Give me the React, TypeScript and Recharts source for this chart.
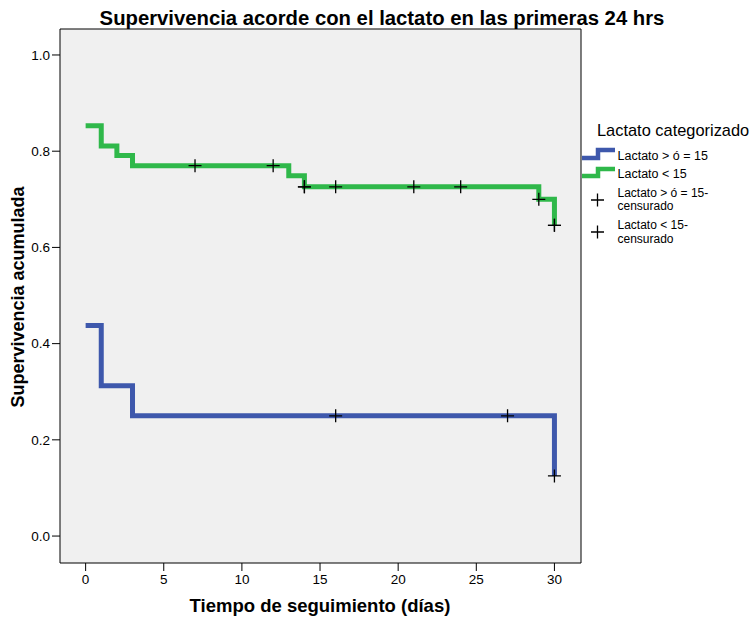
import { ComposedChart, Line, Scatter, XAxis, YAxis, ReferenceArea } from "recharts";

// Kaplan-Meier steps
const highTimes = [0, 1, 3, 30];
const highSurv = [0.4375, 0.3125, 0.25, 0.125];
const lowTimes = [0, 1, 2, 3, 13, 14, 29, 30];
const lowSurv = [0.853, 0.811, 0.791, 0.77, 0.749, 0.726, 0.7, 0.646];

// censored observations
const highCensTimes = [16, 27, 30];
const highCensSurv = [0.25, 0.25, 0.125];
const lowCensTimes = [7, 12, 14, 14, 16, 21, 24, 29, 30, 30];
const lowCensSurv = [0.77, 0.77, 0.726, 0.726, 0.726, 0.726, 0.726, 0.7, 0.646, 0.646];

const xTicks = [0, 5, 10, 15, 20, 25, 30];
const yTicks = [0, 0.2, 0.4, 0.6, 0.8, 1.0];
const xDomain: [number, number] = [-1.64, 31.7];
const yDomain: [number, number] = [-0.056, 1.054];

const BLUE = "#3E58AC";
const GREEN = "#2FB84A";
const FONT = "'Liberation Sans', Arial, sans-serif";

const zip = (t: number[], s: number[]) => t.map((v, i) => ({ t: v, s: s[i] }));

const highData = zip(highTimes, highSurv);
const lowData = zip(lowTimes, lowSurv);
const highCens = zip(highCensTimes, highCensSurv);
const lowCens = zip(lowCensTimes, lowCensSurv);

const Plus = (props: any) => {
  const { cx, cy } = props;
  if (cx == null || cy == null) return null;
  return (
    <path
      d={`M${cx - 6.5},${cy}h13M${cx},${cy - 6.5}v13`}
      stroke="#000"
      strokeWidth={1.3}
      fill="none"
    />
  );
};

const tickStyle = { fontSize: 13.5, fill: "#000", fontFamily: FONT };

export default function App() {
  return (
    <div style={{ position: "absolute", left: 0, top: 0, width: 755, height: 622, background: "#fff" }}>
      <ComposedChart
        width={755}
        height={622}
        margin={{ top: 29, right: 174, bottom: 0, left: 0 }}
      >
        <XAxis
          dataKey="t"
          type="number"
          domain={xDomain}
          ticks={xTicks}
          allowDataOverflow
          height={59}
          axisLine={false}
          tickSize={8}
          tickMargin={3}
          tickLine={{ stroke: "#000" }}
          tick={tickStyle}
        />
        <YAxis
          type="number"
          domain={yDomain}
          ticks={yTicks}
          allowDataOverflow
          width={60}
          axisLine={false}
          tickSize={8}
          tickMargin={2}
          tickLine={{ stroke: "#000" }}
          tick={tickStyle}
          tickFormatter={(v: number) => v.toFixed(1)}
        />
        <ReferenceArea
          x1={xDomain[0]}
          x2={xDomain[1]}
          y1={yDomain[0]}
          y2={yDomain[1]}
          fill="#F0F0F0"
          fillOpacity={1}
          stroke="#000"
          strokeWidth={1}
        />
        <Line
          data={highData}
          dataKey="s"
          type="stepAfter"
          stroke={BLUE}
          strokeWidth={5}
          strokeLinejoin="miter"
          dot={false}
          isAnimationActive={false}
        />
        <Line
          data={lowData}
          dataKey="s"
          type="stepAfter"
          stroke={GREEN}
          strokeWidth={5}
          strokeLinejoin="miter"
          dot={false}
          isAnimationActive={false}
        />
        <Scatter data={highCens} dataKey="s" shape={Plus} isAnimationActive={false} />
        <Scatter data={lowCens} dataKey="s" shape={Plus} isAnimationActive={false} />
      </ComposedChart>

      <svg
        width={755}
        height={622}
        style={{ position: "absolute", left: 0, top: 0, pointerEvents: "none" }}
        fontFamily={FONT}
      >
        <text x={382} y={25} textAnchor="middle" fontSize={20.3} fontWeight="bold" fill="#000">
          Supervivencia acorde con el lactato en las primeras 24 hrs
        </text>
        <text x={320} y={611.5} textAnchor="middle" fontSize={18.5} fontWeight="bold" fill="#000">
          Tiempo de seguimiento (días)
        </text>
        <text
          transform="translate(23.5,297) rotate(-90)"
          textAnchor="middle"
          fontSize={18}
          fontWeight="bold"
          fill="#000"
        >
          Supervivencia acumulada
        </text>

        <text x={597} y={135.5} fontSize={16.4} fill="#000">Lactato categorizado</text>

        <path d="M582,158 H598 V150 H615" stroke={BLUE} strokeWidth={4.5} fill="none" />
        <text x={617.5} y={160} fontSize={12.5} fill="#000">Lactato &gt; ó = 15</text>

        <path d="M582,176 H598 V169 H615" stroke={GREEN} strokeWidth={4.5} fill="none" />
        <text x={617.5} y={178} fontSize={12.5} fill="#000">Lactato &lt; 15</text>

        <path d="M591,200h13M597.5,193.5v13" stroke="#000" strokeWidth={1.3} />
        <text x={617.5} y={196.5} fontSize={12} fill="#000">
          <tspan x={617.5}>Lactato &gt; ó = 15-</tspan>
          <tspan x={617.5} dy={13.5}>censurado</tspan>
        </text>

        <path d="M591,232h13M597.5,225.5v13" stroke="#000" strokeWidth={1.3} />
        <text x={617.5} y={229} fontSize={12} fill="#000">
          <tspan x={617.5}>Lactato &lt; 15-</tspan>
          <tspan x={617.5} dy={13.5}>censurado</tspan>
        </text>
      </svg>
    </div>
  );
}
